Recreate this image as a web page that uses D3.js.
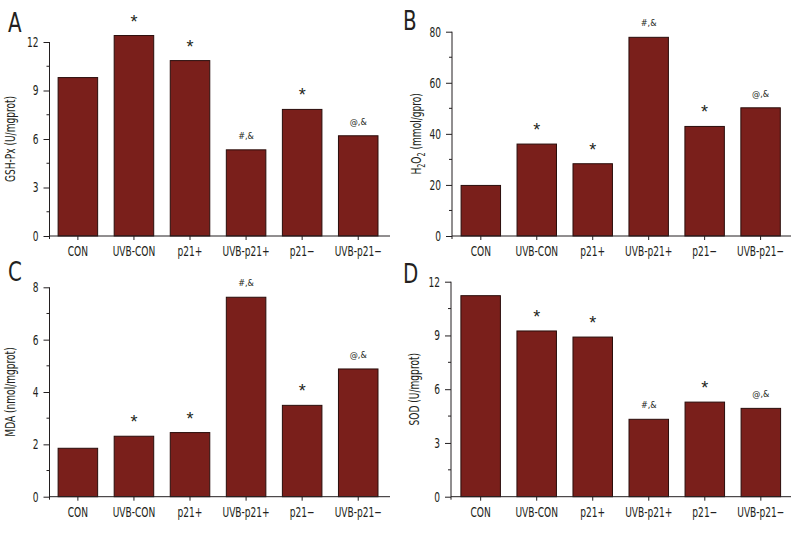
<!DOCTYPE html>
<html>
<head>
<meta charset="utf-8">
<script src="https://cdn.jsdelivr.net/npm/d3@7"></script>
<style>
  html, body { margin: 0; padding: 0; background: #fff; }
  svg { display: block; }
  text { font-family: "DejaVu Sans Condensed", "Liberation Sans Narrow", "Liberation Sans", sans-serif; fill: #231f20; }
</style>
</head>
<body>
<svg id="chart" width="800" height="533"></svg>
<script>
// ---------- data ----------
const categories = ["CON", "UVB-CON", "p21+", "UVB-p21+", "p21\u2212", "UVB-p21\u2212"];

const gshPx = [9.8, 12.4, 10.85, 5.33, 7.83, 6.2];
const h2o2  = [19.8, 36.0, 28.3, 77.8, 42.9, 50.2];
const mda   = [1.85, 2.31, 2.45, 7.62, 3.49, 4.88];
const sod   = [11.22, 9.25, 8.91, 4.32, 5.28, 4.93];

// significance marks per bar
const marksA = ["", "*", "*", "#,&", "*", "@,&"];
const marksB = ["", "*", "*", "#,&", "*", "@,&"];
const marksC = ["", "*", "*", "#,&", "*", "@,&"];
const marksD = ["", "*", "*", "#,&", "*", "@,&"];

const ticksA = [0, 3, 6, 9, 12];
const ticksB = [0, 20, 40, 60, 80];
const ticksC = [0, 2, 4, 6, 8];
const ticksD = [0, 3, 6, 9, 12];

const letters = ["A", "B", "C", "D"];

// ---------- layout (not data) ----------
const panels = [
  { letter: letters[0], values: gshPx, marks: marksA, ticks: ticksA, label: "GSH-Px (U/mgprot)",
    ax: 49.5, y0: 236, yTop: 42, xEnd: 390, bx0: 49.7, bx1: 386.4, lx: 8, ly: 32, labX: 15 },
  { letter: letters[1], values: h2o2, marks: marksB, ticks: ticksB, label: "H2O2",
    ax: 452, y0: 236, yTop: 31.7, xEnd: 791, bx0: 452.7, bx1: 788.7, lx: 403, ly: 30, labX: 421 },
  { letter: letters[2], values: mda, marks: marksC, ticks: ticksC, label: "MDA (nmol/mgprot)",
    ax: 49.5, y0: 496.7, yTop: 287.3, xEnd: 390, bx0: 49.7, bx1: 386.4, lx: 8, ly: 281, labX: 15 },
  { letter: letters[3], values: sod, marks: marksD, ticks: ticksD, label: "SOD (U/mgprot)",
    ax: 451, y0: 496.7, yTop: 281.7, xEnd: 791, bx0: 452.5, bx1: 789, lx: 403, ly: 283, labX: 419 }
];

const svg = d3.select("#chart");
const barFill = "#7a1f1b";
const axisColor = "#231f20";
const SX = 0.72; // horizontal squeeze to mimic a condensed face

panels.forEach(p => {
  const g = svg.append("g");
  const top = p.ticks[p.ticks.length - 1];
  const y = d3.scaleLinear().domain([0, top]).range([p.y0, p.yTop]);
  const x = d3.scaleBand().domain(categories).range([p.bx0, p.bx1])
              .paddingInner(0.295).paddingOuter(0.15);

  // bars
  g.selectAll("rect.bar").data(p.values).enter().append("rect")
    .attr("class", "bar")
    .attr("x", (d, i) => x(categories[i]))
    .attr("width", x.bandwidth())
    .attr("y", d => y(d))
    .attr("height", d => y(0) - y(d))
    .attr("fill", barFill)
    .attr("stroke", "#2a0d0b")
    .attr("stroke-width", 1);

  // minor ticks
  const step = p.ticks[1] - p.ticks[0];
  const minors = p.ticks.slice(0, -1).map(t => t + step / 2);
  g.selectAll("line.minor").data(minors).enter().append("line")
    .attr("x1", p.ax - 3).attr("x2", p.ax)
    .attr("y1", d => y(d)).attr("y2", d => y(d))
    .attr("stroke", axisColor).attr("stroke-width", 1);

  // y axis
  const yAxis = d3.axisLeft(y).tickValues(p.ticks).tickSize(6).tickPadding(4).tickSizeOuter(0)
                  .tickFormat(d3.format("d"));
  const ya = g.append("g").attr("transform", `translate(${p.ax},0)`).call(yAxis);
  ya.select(".domain").remove();
  ya.selectAll(".tick line").attr("stroke", axisColor);
  ya.selectAll(".tick text").style("font-size", "14px")
    .attr("x", -11 / SX)
    .attr("transform", `scale(${SX},1)`)
    .attr("fill", axisColor);
  g.append("line").attr("x1", p.ax).attr("x2", p.ax).attr("y1", p.yTop).attr("y2", p.y0 + 3)
    .attr("stroke", axisColor).attr("stroke-width", 1);

  // x axis
  const xAxis = d3.axisBottom(x).tickSize(4).tickPadding(6).tickSizeOuter(0);
  const xa = g.append("g").attr("transform", `translate(0,${p.y0})`).call(xAxis);
  xa.select(".domain").remove();
  xa.selectAll(".tick line").attr("stroke", axisColor);
  xa.selectAll(".tick text").style("font-size", "14px")
    .attr("transform", `scale(${SX},1)`)
    .attr("fill", axisColor);
  g.append("line").attr("x1", p.ax).attr("x2", p.xEnd).attr("y1", p.y0).attr("y2", p.y0)
    .attr("stroke", axisColor).attr("stroke-width", 1);

  // significance marks
  g.selectAll("text.mark").data(p.values).enter().append("text")
    .attr("class", "mark")
    .attr("x", (d, i) => x(categories[i]) + x.bandwidth() / 2)
    .attr("y", (d, i) => p.marks[i] === "*" ? y(d) - 8 : y(d) - 11)
    .attr("text-anchor", "middle")
    .style("font-family", (d, i) => p.marks[i] === "*" ? '"Liberation Sans", sans-serif' : '"DejaVu Sans Condensed", sans-serif')
    .style("font-size", (d, i) => p.marks[i] === "*" ? "18px" : "9px")
    .attr("fill", (d, i) => p.marks[i] === "*" ? "#2d2d2d" : "#555")
    .text((d, i) => p.marks[i]);

  // panel letter
  g.append("text")
    .attr("transform", `translate(${p.lx},${p.ly}) scale(0.85,1)`)
    .style("font-size", "26px").text(p.letter);

  // y label
  const midY = (p.yTop + p.y0) / 2;
  const lab = g.append("text")
    .attr("transform", `translate(${p.labX},${midY}) rotate(-90) scale(${SX},1)`)
    .attr("text-anchor", "middle")
    .style("font-size", "14px");
  if (p.label === "H2O2") {
    lab.append("tspan").text("H");
    lab.append("tspan").attr("dy", 4).style("font-size", "10px").text("2");
    lab.append("tspan").attr("dy", -4).text("O");
    lab.append("tspan").attr("dy", 4).style("font-size", "10px").text("2");
    lab.append("tspan").attr("dy", -4).text(" (mmol/gpro)");
  } else {
    lab.text(p.label);
  }
});
</script>
</body>
</html>
